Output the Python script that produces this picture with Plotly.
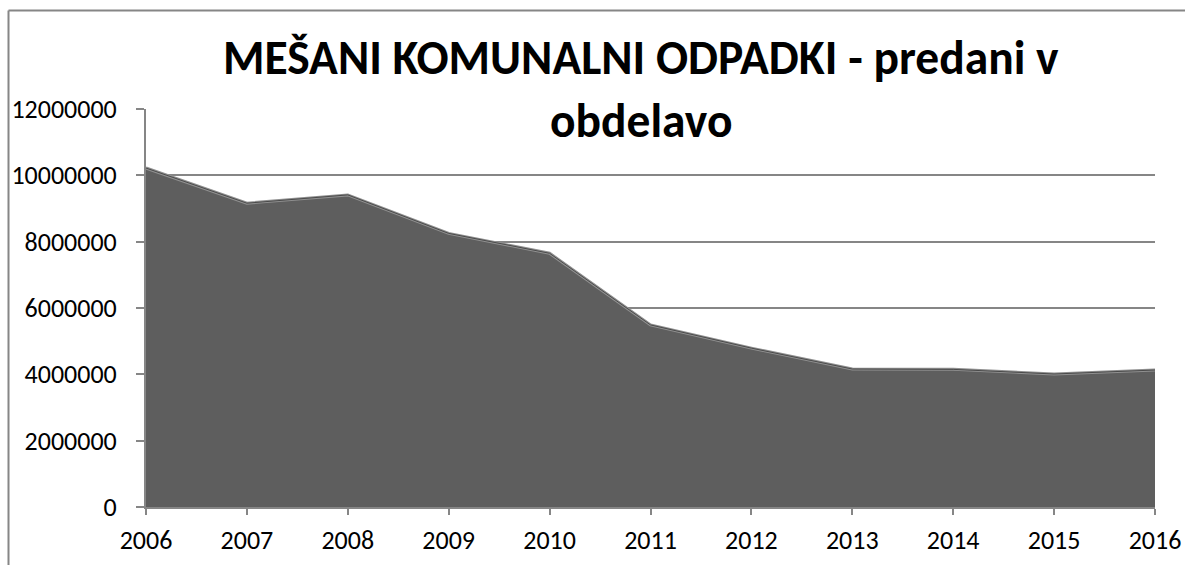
import plotly.graph_objects as go

years = [2006, 2007, 2008, 2009, 2010, 2011, 2012, 2013, 2014, 2015, 2016]
values = [10220000, 9160000, 9410000, 8250000, 7650000, 5490000, 4790000, 4160000, 4150000, 4010000, 4130000]
y_ticks = [0, 2000000, 4000000, 6000000, 8000000, 10000000, 12000000]
title_line1 = "MEŠANI KOMUNALNI ODPADKI - predani v"
title_line2 = "obdelavo"

W, H = 1185, 565
L, R, T, B = 146, 1155, 109, 507

def px(x):
    return (x - L) / (R - L)

def py(y):
    return (B - y) / (B - T)

fig = go.Figure()
fig.add_trace(go.Scatter(
    x=years, y=values, mode="lines", fill="tozeroy",
    fillcolor="#5e5e5e",
    line=dict(color="#909090", width=3),
    hoverinfo="skip", showlegend=False,
))
fig.add_trace(go.Scatter(
    x=years, y=values, mode="lines",
    line=dict(color="#4a4a4a", width=1),
    hoverinfo="skip", showlegend=False,
))

font_family = "Carlito, Calibri, Open Sans, sans-serif"

fig.update_layout(
    width=W, height=H,
    margin=dict(l=L, r=W - R, t=T, b=H - B),
    paper_bgcolor="white", plot_bgcolor="white",
    font=dict(family=font_family, size=26, color="black"),
    xaxis=dict(
        range=[years[0], years[-1]],
        tickmode="array", tickvals=years, ticktext=[str(y) for y in years],
        showgrid=False, zeroline=False,
        showline=True, linecolor="#868686", linewidth=2,
        ticks="outside", ticklen=6, tickcolor="#868686", tickwidth=2,
        ticklabelstandoff=3,
        tickfont=dict(size=26),
        automargin=False,
    ),
    yaxis=dict(
        range=[0, 12000000],
        tickmode="array", tickvals=y_ticks, ticktext=[str(v) for v in y_ticks],
        showgrid=True, gridcolor="#868686", gridwidth=1.5,
        zeroline=False,
        showline=True, linecolor="#868686", linewidth=2,
        ticks="outside", ticklen=8, tickcolor="#868686", tickwidth=2,
        ticklabelstandoff=14,
        tickfont=dict(size=26),
        automargin=False,
    ),
    annotations=[
        dict(text="<b>" + title_line1 + "</b>", x=px(641), y=py(58),
             xref="paper", yref="paper", showarrow=False,
             xanchor="center", yanchor="middle",
             font=dict(size=47.5, family=font_family, color="black")),
        dict(text="<b>" + title_line2 + "</b>", x=px(641), y=py(121),
             xref="paper", yref="paper", showarrow=False,
             xanchor="center", yanchor="middle",
             font=dict(size=47.5, family=font_family, color="black")),
    ],
    shapes=[
        dict(type="line", xref="paper", yref="paper",
             x0=px(8.5), x1=px(1185), y0=py(10.5), y1=py(10.5),
             line=dict(color="#868686", width=2)),
        dict(type="line", xref="paper", yref="paper",
             x0=px(8.5), x1=px(8.5), y0=py(10.5), y1=py(565),
             line=dict(color="#868686", width=2)),
    ],
)

fig.write_html(
    "out.html",
    config={"displayModeBar": False},
    post_script="document.body.style.margin='0';document.body.style.overflow='hidden';",
)
